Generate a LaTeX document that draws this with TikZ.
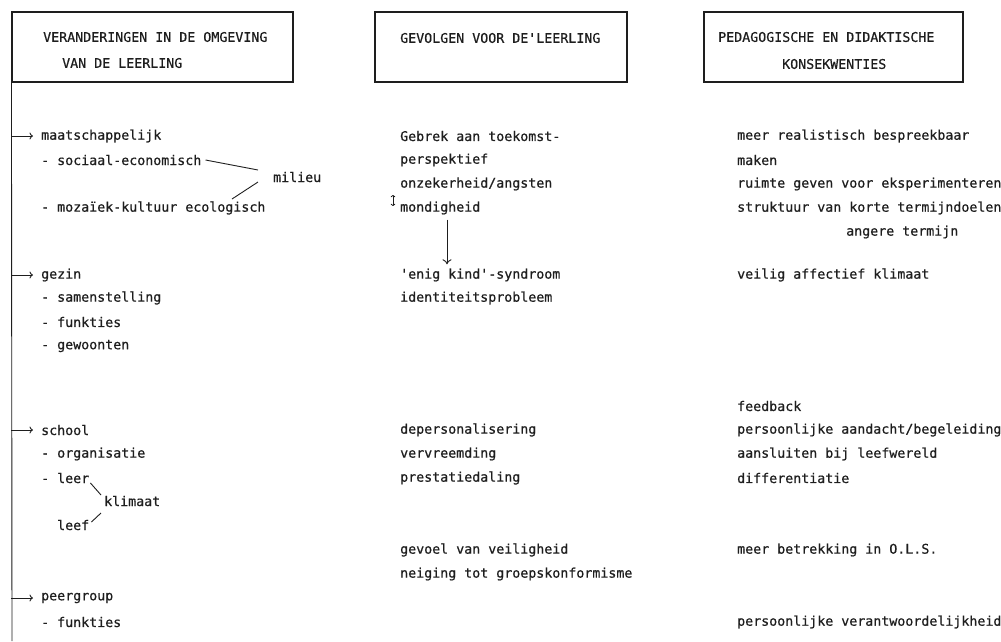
\documentclass[tikz,border=0pt]{standalone}
\usepackage{fontspec}
\newfontfamily\tw[FakeBold=0.6]{DejaVu Sans Mono}
\usetikzlibrary{arrows.meta}
\definecolor{ink}{HTML}{1E1E1E}
\begin{document}
\begin{tikzpicture}[x=1pt,y=-1pt,
  txt/.style={font=\tw\fontsize{13.3}{16}\selectfont, text=ink, inner sep=0pt, anchor=west},
  hbox/.style={draw=ink, line width=1.1pt, rectangle, inner sep=0pt},
  ln/.style={draw=ink, line width=0.9pt},
  arr/.style={ln, -{To[length=3.5pt,width=7pt]}}]
\useasboundingbox[fill=white] (0,0) rectangle (1001,641);

% header boxes
\node[hbox, minimum width=281pt, minimum height=70pt] (b1) at (152.5,47) {};
\node[hbox, minimum width=252pt, minimum height=70pt] (b2) at (501,47) {};
\node[hbox, minimum width=259pt, minimum height=70pt] (b3) at (833.5,47) {};
\node[txt] (h1a) at (43,37) {VERANDERINGEN IN DE OMGEVING};
\node[txt] (h1b) at (62,63) {VAN DE LEERLING};
\node[txt] (h2) at (400,38) {GEVOLGEN VOOR DE\symbol{39}LEERLING};
\node[txt] (h3a) at (718,37) {PEDAGOGISCHE EN DIDAKTISCHE};
\node[txt] (h3b) at (782,64) {KONSEKWENTIES};

% left column
\node[txt] (lm) at (41,136) {maatschappelijk};
\node[txt] (ls) at (41,160) {- sociaal-economisch};
\node[txt] (lmil) at (273,177) {milieu};
\node[txt] (lmo) at (41,208) {- moza\"{\i}ek-kultuur ecologisch};
\node[txt] (lg) at (41,275) {gezin};
\node[txt] (lg1) at (41,298) {- samenstelling};
\node[txt] (lg2) at (41,322) {- funkties};
\node[txt] (lg3) at (41,346) {- gewoonten};
\node[txt] (lsc) at (41,430) {school};
\node[txt] (ls1) at (41,454) {- organisatie};
\node[txt] (ls2) at (41,478) {- leer};
\node[txt] (lkl) at (104,501) {klimaat};
\node[txt] (lle) at (57,525) {leef};
\node[txt] (lp) at (41,598) {peergroup};
\node[txt] (lp1) at (41,622) {- funkties};

% vertical line and arrows
\coordinate (vend) at (12,641);
\draw[ln] (b1.south west) -- (vend);
\coordinate (a1) at (11,136);
\coordinate (a2) at (11,275);
\coordinate (a3) at (11,430);
\coordinate (a4) at (11,598);
\draw[arr, shorten >=8pt] (a1) -- (lm.west);
\draw[arr, shorten >=8pt] (a2) -- (lg.west);
\draw[arr, shorten >=8pt] (a3) -- (lsc.west);
\draw[arr, shorten >=8pt] (a4) -- (lp.west);

% milieu bracket
\coordinate (mu) at (258,170);
\coordinate (ml0) at (232,199);
\coordinate (ml) at (258,182);
\draw[ln] ([xshift=4pt]ls.east) -- (mu);
\draw[ln] (ml0) -- (ml);

% klimaat bracket
\coordinate (ku) at (101,495);
\coordinate (kl) at (101,513);
\draw[ln] ([xshift=1pt,yshift=-5pt]ls2.east) -- (ku);
\draw[ln] ([xshift=2pt,yshift=3pt]lle.east) -- (kl);

% middle column
\node[txt] (m1) at (400,136) {Gebrek aan toekomst-};
\node[txt] (m2) at (400,160) {perspektief};
\node[txt] (m3) at (400,184) {onzekerheid/angsten};
\node[txt] (m4) at (400,208) {mondigheid};
\node[txt] (m5) at (400,275) {\symbol{39}enig kind\symbol{39}-syndroom};
\node[txt] (m6) at (400,298) {identiteitsprobleem};
\node[txt] (m7) at (400,430) {depersonalisering};
\node[txt] (m8) at (400,454) {vervreemding};
\node[txt] (m9) at (400,478) {prestatiedaling};
\node[txt] (m10) at (400,550) {gevoel van veiligheid};
\node[txt] (m11) at (400,574) {neiging tot groepskonformisme};

\coordinate (ud1) at (393,195);
\coordinate (ud2) at (393,206);
\draw[ln, line width=0.8pt, {To[length=2.2pt,width=4.5pt]}-{To[length=2.2pt,width=4.5pt]}] (ud1) -- (ud2);
\coordinate (dx) at (447,0);
\draw[ln, -{To[length=5pt,width=9pt]}] ([yshift=-5pt]m4.south -| dx) -- ([yshift=4pt]m5.north -| dx);

% right column
\node[txt] (r1) at (737,136) {meer realistisch bespreekbaar};
\node[txt] (r2) at (737,160) {maken};
\node[txt] (r3) at (737,184) {ruimte geven voor eksperimenteren};
\node[txt] (r4) at (737,208) {struktuur van korte termijndoelen};
\node[txt] (r5) at (846,232) {angere termijn};
\node[txt] (r6) at (737,275) {veilig affectief klimaat};
\node[txt] (r7) at (737,406) {feedback};
\node[txt] (r8) at (737,430) {persoonlijke aandacht/begeleiding};
\node[txt] (r9) at (737,454) {aansluiten bij leefwereld};
\node[txt] (r10) at (737,478) {differentiatie};
\node[txt] (r11) at (737,550) {meer betrekking in O.L.S.};
\node[txt] (r12) at (737,622) {persoonlijke verantwoordelijkheid};
\end{tikzpicture}
\end{document}
